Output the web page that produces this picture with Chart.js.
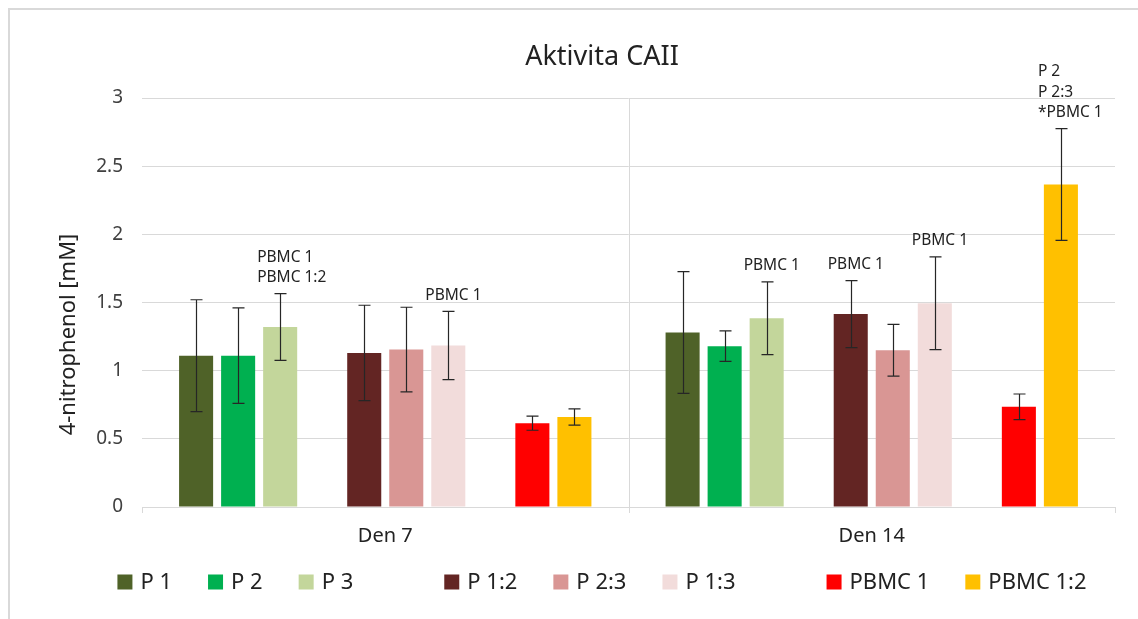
<!DOCTYPE html>
<html>
<head>
<meta charset="utf-8">
<title>Aktivita CAII</title>
<style>
  html, body { margin: 0; padding: 0; background: #fff; }
  #wrap { width: 1138px; height: 619px; }
</style>
<script src="https://cdn.jsdelivr.net/npm/chart.js@4.4.1/dist/chart.umd.min.js"></script>
</head>
<body>
<div id="wrap"><canvas id="chart" width="1138" height="619"></canvas></div>
<script>
// ---- data ----
const categories = ['Den 7', 'Den 14'];
const yTicks = [0, 0.5, 1, 1.5, 2, 2.5, 3];

const p1      = [1.11, 1.28];
const p1Err   = [0.41, 0.447];
const p2      = [1.11, 1.18];
const p2Err   = [0.35, 0.112];
const p3      = [1.32, 1.385];
const p3Err   = [0.245, 0.267];
const p12     = [1.13, 1.415];
const p12Err  = [0.35, 0.246];
const p23     = [1.155, 1.15];
const p23Err  = [0.31, 0.19];
const p13     = [1.185, 1.495];
const p13Err  = [0.25, 0.34];
const pbmc1     = [0.615, 0.735];
const pbmc1Err  = [0.052, 0.094];
const pbmc12    = [0.66, 2.365];
const pbmc12Err = [0.06, 0.41];

// significance notes written above the error bars (one list per category)
const p3Notes     = [['PBMC 1', 'PBMC 1:2'], ['PBMC 1']];
const p12Notes    = [[], ['PBMC 1']];
const p13Notes    = [['PBMC 1'], ['PBMC 1']];
const pbmc12Notes = [[], ['P 2', 'P 2:3', '*PBMC 1']];

const chartTitle = 'Aktivita CAII';
const yTitle = '4-nitrophenol [mM]';

const FONT = '"Noto Sans", "DejaVu Sans", sans-serif';
const TEXT = '#222222';
const GRID = '#d9d9d9';
const HEADER_CX = 602;   // horizontal centre of title and legend

// three series groups separated by an empty slot
const groups = [
  [
    { label: 'P 1', data: p1, errors: p1Err, color: '#4f6228' },
    { label: 'P 2', data: p2, errors: p2Err, color: '#00b050' },
    { label: 'P 3', data: p3, errors: p3Err, color: '#c3d69b', notes: p3Notes }
  ],
  [
    { label: 'P 1:2', data: p12, errors: p12Err, color: '#632523', notes: p12Notes },
    { label: 'P 2:3', data: p23, errors: p23Err, color: '#d99694' },
    { label: 'P 1:3', data: p13, errors: p13Err, color: '#f2dcdb', notes: p13Notes }
  ],
  [
    { label: 'PBMC 1', data: pbmc1, errors: pbmc1Err, color: '#ff0000' },
    { label: 'PBMC 1:2', data: pbmc12, errors: pbmc12Err, color: '#ffc000', notes: pbmc12Notes }
  ]
];

const datasets = [];
groups.forEach((g, gi) => {
  if (gi > 0) {
    datasets.push({ label: '', data: categories.map(() => null), spacer: true, backgroundColor: 'rgba(0,0,0,0)' });
  }
  g.forEach(s => datasets.push({
    label: s.label,
    data: s.data,
    errors: s.errors,
    notes: s.notes || null,
    backgroundColor: s.color,
    borderWidth: 0
  }));
});

// ---- plugins ----
const frame = {
  id: 'frame',
  beforeDraw(chart) {
    const ctx = chart.ctx;
    ctx.save();
    ctx.fillStyle = '#ffffff';
    ctx.fillRect(0, 0, chart.width, chart.height);
    ctx.strokeStyle = GRID;
    ctx.lineWidth = 2;
    ctx.strokeRect(9, 9, chart.width + 40, chart.height + 40);
    ctx.restore();
  }
};

const categoryDividers = {
  id: 'categoryDividers',
  beforeDatasetsDraw(chart) {
    const { ctx, chartArea: a } = chart;
    const n = categories.length;
    const step = (a.right - a.left) / n;
    ctx.save();
    ctx.strokeStyle = GRID;
    ctx.lineWidth = 1;
    for (let i = 0; i <= n; i++) {
      const x = Math.round(a.left + i * step) + 0.5;
      const top = (i === 0 || i === n) ? a.bottom : a.top;
      ctx.beginPath();
      ctx.moveTo(x, top);
      ctx.lineTo(x, a.bottom + 6);
      ctx.stroke();
    }
    ctx.restore();
  }
};

const errorBars = {
  id: 'errorBars',
  afterDatasetsDraw(chart) {
    const ctx = chart.ctx;
    const y = chart.scales.y;
    ctx.save();
    chart.data.datasets.forEach((ds, di) => {
      if (!ds.errors) return;
      const meta = chart.getDatasetMeta(di);
      meta.data.forEach((bar, i) => {
        const v = ds.data[i], e = ds.errors[i];
        if (v == null) return;
        const x = Math.round(bar.x) + 0.5;
        const yHi = y.getPixelForValue(v + e);
        const yLo = y.getPixelForValue(v - e);
        ctx.strokeStyle = '#262626';
        ctx.lineWidth = 1.2;
        ctx.beginPath();
        ctx.moveTo(x, yHi); ctx.lineTo(x, yLo);
        ctx.moveTo(x - 6, yHi); ctx.lineTo(x + 6, yHi);
        ctx.moveTo(x - 6, yLo); ctx.lineTo(x + 6, yLo);
        ctx.stroke();

        const notes = ds.notes ? ds.notes[i] : null;
        if (notes && notes.length) {
          ctx.fillStyle = TEXT;
          ctx.font = '15.5px ' + FONT;
          ctx.textAlign = 'left';
          ctx.textBaseline = 'middle';
          const last = notes.length - 1;
          notes.forEach((line, li) => {
            ctx.fillText(line, bar.x - 23, yHi - 16 - (last - li) * 20.5);
          });
        }
      });
    });
    ctx.restore();
  }
};

const axisAndTitleText = {
  id: 'axisAndTitleText',
  afterDraw(chart) {
    const { ctx, chartArea: a } = chart;
    ctx.save();
    ctx.fillStyle = TEXT;
    ctx.textAlign = 'center';
    ctx.textBaseline = 'middle';
    ctx.font = '27px ' + FONT;
    ctx.fillText(chartTitle, HEADER_CX, 57);

    ctx.translate(69, (a.top + a.bottom) / 2 + 32);
    ctx.rotate(-Math.PI / 2);
    ctx.font = '22px ' + FONT;
    ctx.fillText(yTitle, 0, 0);
    ctx.restore();
  }
};

const groupedLegend = {
  id: 'groupedLegend',
  afterDraw(chart) {
    const ctx = chart.ctx;
    const box = 15, boxGap = 8, itemGap = 36, groupGap = 55;
    const cy = 582;
    ctx.save();
    ctx.font = '22px ' + FONT;
    let total = 0;
    const items = chart.data.datasets.map(ds => {
      if (ds.spacer) return { spacer: true, w: groupGap };
      const w = box + boxGap + ctx.measureText(ds.label).width;
      return { ds, w };
    });
    items.forEach((it, k) => {
      total += it.w + (it.spacer || k === items.length - 1 ? 0 : itemGap);
    });
    let x = HEADER_CX - total / 2;
    ctx.textAlign = 'left';
    ctx.textBaseline = 'middle';
    items.forEach(it => {
      if (it.spacer) { x += it.w; return; }
      ctx.fillStyle = it.ds.backgroundColor;
      ctx.fillRect(x, cy - box / 2, box, box);
      ctx.fillStyle = TEXT;
      ctx.fillText(it.ds.label, x + box + boxGap, cy + 1);
      x += it.w + itemGap;
    });
    ctx.restore();
  }
};

// ---- chart ----
new Chart(document.getElementById('chart'), {
  type: 'bar',
  data: { labels: categories, datasets },
  plugins: [frame, categoryDividers, errorBars, axisAndTitleText, groupedLegend],
  options: {
    responsive: false,
    animation: false,
    devicePixelRatio: 1,
    categoryPercentage: 0.864,
    barPercentage: 0.81,
    layout: { padding: { left: 8, right: 23, top: 98, bottom: 69 } },
    plugins: {
      legend: { display: false },
      tooltip: { enabled: false },
      title: { display: false }
    },
    scales: {
      x: {
        grid: { display: false, drawTicks: false },
        border: { display: true, color: GRID, width: 1 },
        ticks: { color: TEXT, font: { family: FONT, size: 20 }, padding: 17 },
        afterFit(scale) { scale.height = 43; }
      },
      y: {
        min: yTicks[0],
        max: yTicks[yTicks.length - 1],
        afterBuildTicks(scale) { scale.ticks = yTicks.map(v => ({ value: v })); },
        grid: { color: GRID, lineWidth: 1, drawTicks: false },
        border: { display: false },
        ticks: {
          color: '#404040',
          font: { family: FONT, size: 19 },
          padding: 19,
          callback: v => String(v)
        },
        afterFit(scale) { scale.width = 134; }
      }
    }
  }
});
</script>
</body>
</html>
